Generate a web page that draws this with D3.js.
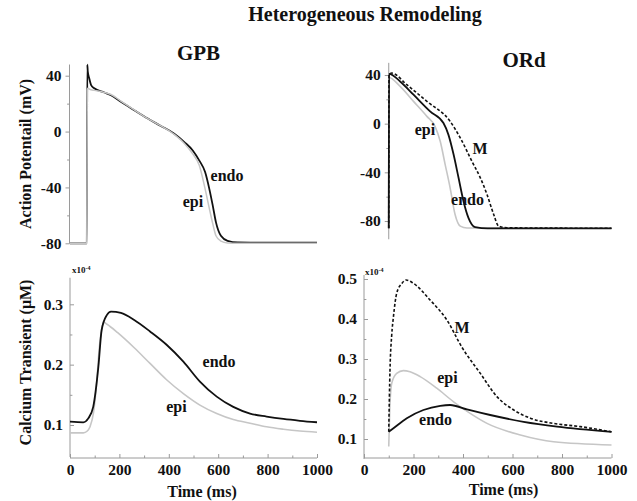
<html>
<script src='https://d3js.org/d3.v7.min.js'></script>
<head>
<style>
	body {margin:0; background:white;}
	svg {display:block;}
	text {font-family:"Liberation Serif","Times New Roman",serif; font-weight:bold; fill:#111;}
	.tick text {font-size:15.5px; fill:#111;}
</style>
</head>
<body>
<svg width=637 height=501></svg>
<script>

// GPB action potential (mV) vs time (ms)
var gpbApT    = [0, 68, 70, 72, 78, 85, 98, 139, 166, 206, 260, 315, 368, 422, 463, 497, 523, 547, 564, 578, 591, 611, 638, 679, 800, 1000];
var gpbApEndo = [-80, -80, 48, 43, 38, 33.5, 31, 28, 26, 21.3, 15.3, 9.3, 4, -1.5, -7.5, -13.5, -20.6, -29, -41, -53, -65, -74.6, -78.2, -79.4, -79.5, -79.6];
var gpbApEpi  = [-80, -80, 30, 31, 30.5, 30, 29.5, 28, 26.5, 21.8, 15.5, 9.3, 4, -2, -8.5, -16, -24, -41, -55, -66, -74.6, -78.5, -79.8, -80, -80, -80];

// ORd action potential (mV)
var ordApEpiT  = [100, 101, 146, 200, 254, 287, 308, 328, 348, 368, 389, 416, 1000];
var ordApEpiV  = [-86, 38, 30.6, 18.3, 6, -2.2, -14.5, -33.6, -52.7, -74.6, -84.2, -85.8, -86];
var ordApEndoT = [100, 101, 146, 200, 267, 321, 341, 362, 382, 402, 422, 449, 500, 1000];
var ordApEndoV = [-86, 41, 34.7, 23.8, 10.1, 0.5, -9, -25.4, -44.5, -63.7, -77.4, -85, -86, -86];
var ordApMT    = [100, 101, 112, 173, 254, 348, 389, 436, 470, 497, 524, 544, 578, 1000];
var ordApMV    = [-86, 40, 41.6, 32, 18.3, 1.9, -11.7, -30.9, -44.5, -58.2, -74.6, -84.2, -85.6, -86];

// GPB calcium transient (x10^-4 uM)
var gpbCaEndoT = [0, 54, 74, 94, 115, 128, 149, 166, 206, 260, 324, 391, 459, 526, 594, 661, 729, 796, 864, 931, 1000];
var gpbCaEndoV = [0.1055, 0.1045, 0.111, 0.130, 0.197, 0.257, 0.282, 0.288, 0.2857, 0.274, 0.255, 0.233, 0.205, 0.172, 0.147, 0.130, 0.119, 0.114, 0.110, 0.107, 0.1045];
var gpbCaEpiT  = [0, 54, 70, 81, 95, 108, 118, 128, 138, 150, 193, 260, 324, 391, 459, 526, 594, 661, 729, 796, 864, 931, 1000];
var gpbCaEpiV  = [0.087, 0.087, 0.090, 0.097, 0.120, 0.170, 0.225, 0.258, 0.270, 0.267, 0.253, 0.228, 0.202, 0.175, 0.152, 0.133, 0.119, 0.109, 0.103, 0.097, 0.093, 0.090, 0.088];

// ORd calcium transient (x10^-4 uM)
var ordCaMT    = [100, 105, 112, 119, 132, 153, 170, 200, 267, 335, 395, 470, 537, 605, 672, 766, 874, 1000];
var ordCaMV    = [0.118, 0.2725, 0.36, 0.406, 0.464, 0.489, 0.4975, 0.489, 0.4475, 0.3975, 0.33, 0.264, 0.206, 0.1725, 0.152, 0.139, 0.131, 0.118];
var ordCaEndoT = [100, 119, 173, 240, 308, 348, 416, 510, 645, 780, 1000];
var ordCaEndoV = [0.118, 0.127, 0.152, 0.1725, 0.183, 0.185, 0.174, 0.16, 0.143, 0.131, 0.118];
var ordCaEpiT  = [100, 104, 112, 132, 159, 186, 227, 294, 362, 429, 497, 632, 766, 1000];
var ordCaEpiV  = [0.081, 0.1725, 0.239, 0.264, 0.271, 0.268, 0.256, 0.227, 0.193, 0.164, 0.139, 0.11, 0.093, 0.085];

// ticks
var apTicks = [40, 0, -40, -80];
var apMinor = [20, -20, -60];
var caTicksL = [0.1, 0.2, 0.3];
var caMinorL = [0.15, 0.25];
var caTicksR = [0.1, 0.2, 0.3, 0.4, 0.5];
var caMinorR = [0.15, 0.25, 0.35, 0.45];
var timeTicks = [0, 200, 400, 600, 800, 1000];
var timeMinor = [100, 300, 500, 700, 900];

var black = "#111";
var grey = "#c6c6c6";
var axisColor = "#9a9a9a";

var svg = d3.select("svg");

//scales
var xL = d3.scaleLinear().domain([0, 1000]).range([70, 317]);
var xR = d3.scaleLinear().domain([0, 1000]).range([364, 611.5]);
var yApL = d3.scaleLinear().domain([-80, 40]).range([243.3, 75.7]);
var yApR = d3.scaleLinear().domain([-80, 40]).range([221, 75]);
var yCaL = d3.scaleLinear().domain([0.1, 0.3]).range([425, 304.3]);
var yCaR = d3.scaleLinear().domain([0.1, 0.5]).range([439, 279]);

//y-axis with a custom extent for the axis line
function yAxis(x0, y, lo, hi, major, minor, fmt, tick, pad) {
	var g = svg.append("g").attr("transform", "translate(" + x0 + ",0)").attr("color", axisColor);
	g.append("line").attr("y1", y(lo)).attr("y2", y(hi)).attr("stroke", axisColor);
	g.append("g")
		.call(d3.axisLeft(y).tickValues(major).tickFormat(fmt).tickSize(tick).tickPadding(pad))
		.call(function(s) { s.select(".domain").remove(); });
	g.append("g")
		.call(d3.axisLeft(y).tickValues(minor).tickFormat("").tickSize(tick * 0.6))
		.call(function(s) { s.select(".domain").remove(); });
}

//x-axis along the bottom panels, ticks point inward
function xAxis(y0, x) {
	var g = svg.append("g").attr("transform", "translate(0," + y0 + ")").attr("color", axisColor);
	g.append("line").attr("x1", x(0)).attr("x2", x(1000)).attr("stroke", axisColor);
	g.append("g")
		.call(d3.axisBottom(x).tickValues(timeTicks).tickFormat(d3.format("d")).tickSize(-4).tickPadding(6))
		.call(function(s) { s.select(".domain").remove(); });
	g.append("g")
		.call(d3.axisBottom(x).tickValues(timeMinor).tickFormat("").tickSize(-2.5))
		.call(function(s) { s.select(".domain").remove(); });
}

yAxis(xL(0) - 0.5, yApL, -80.3, 48, apTicks, apMinor, function(d) { return d; }, 4, 4);
yAxis(xR(100), yApR, -95, 50, apTicks, apMinor, function(d) { return d; }, 4, 4);
yAxis(xL(0), yCaL, 0.047, 0.344, caTicksL, caMinorL, d3.format(".1f"), -4, 7);
yAxis(xR(0), yCaR, 0.05, 0.51, caTicksR, caMinorR, d3.format(".1f"), -4, 7);
xAxis(458, xL);
xAxis(458, xR);

//traces
function trace(x, y, ts, vs, color, width, dash) {
	var line = d3.line()
		.x(function(d) { return x(d[0]); })
		.y(function(d) { return y(d[1]); })
		.curve(d3.curveMonotoneX);
	svg.append("path")
		.datum(d3.zip(ts, vs))
		.attr("d", line)
		.attr("fill", "none")
		.attr("stroke", color)
		.attr("stroke-width", width)
		.attr("stroke-dasharray", dash || null)
		.attr("stroke-linejoin", "round");
}

// GPB AP: the grey epi trace lies over the black one
trace(xL, yApL, gpbApT, gpbApEndo, black, 1.8);
trace(xL, yApL, gpbApT, gpbApEpi, grey, 1.5);

trace(xR, yApR, ordApEpiT, ordApEpiV, grey, 1.6);
trace(xR, yApR, ordApEndoT, ordApEndoV, black, 1.8);
trace(xR, yApR, ordApMT, ordApMV, black, 1.6, "3,2");

trace(xL, yCaL, gpbCaEpiT, gpbCaEpiV, grey, 1.6);
trace(xL, yCaL, gpbCaEndoT, gpbCaEndoV, black, 1.8);

trace(xR, yCaR, ordCaEpiT, ordCaEpiV, grey, 1.6);
trace(xR, yCaR, ordCaEndoT, ordCaEndoV, black, 1.8);
trace(xR, yCaR, ordCaMT, ordCaMV, black, 1.6, "3,2");

//titles
function label(x, y, txt, size, anchor, rot) {
	var t = svg.append("text")
		.attr("x", x).attr("y", y)
		.attr("text-anchor", anchor || "middle")
		.style("font-size", size + "px")
		.text(txt);
	if (rot) t.attr("transform", "rotate(-90," + x + "," + y + ")");
	return t;
}

label(365, 21, "Heterogeneous Remodeling", 20);
label(198.5, 60, "GPB", 21);
label(524, 67, "ORd", 21);
label(31, 154, "Action Potentail (mV)", 16, "middle", true);
label(31, 362.5, "Calcium Transient (\u03bcM)", 16, "middle", true);
label(202, 497, "Time (ms)", 16);
label(503.5, 495, "Time (ms)", 16);

//x10^-4 markers
[[72, 273], [365, 275]].forEach(function(p) {
	var t = svg.append("text").attr("x", p[0]).attr("y", p[1]).style("font-size", "9px");
	t.append("tspan").text("x10");
	t.append("tspan").attr("dy", -3).style("font-size", "6px").text("-4");
});

//curve labels
label(227, 181, "endo", 16);
label(193, 207, "epi", 16);
label(425, 135, "epi", 16);
label(480, 154, "M", 16);
label(467.5, 205, "endo", 16);
label(219, 367, "endo", 16);
label(176.5, 412, "epi", 16);
label(462, 333, "M", 16);
label(447.5, 383, "epi", 16);
label(435.5, 425, "endo", 16);

</script>
</body>
</html>
